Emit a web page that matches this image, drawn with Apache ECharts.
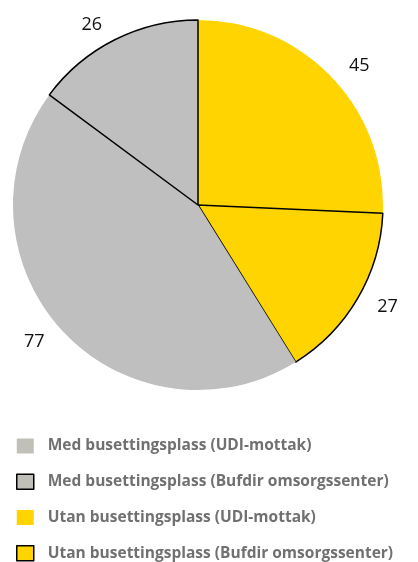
<!DOCTYPE html>
<html>
<head>
<meta charset="utf-8">
<script src="https://cdn.jsdelivr.net/npm/echarts@6/dist/echarts.min.js"></script>
<style>
  html, body { margin: 0; padding: 0; background: #fff; }
  #chart { width: 418px; height: 562px; }
</style>
</head>
<body>
<div id="chart"></div>
<script>
// slices clockwise from 12 o'clock
const sliceNames = [
  'Utan busettingsplass (UDI-mottak)',
  'Utan busettingsplass (Bufdir omsorgssenter)',
  'Med busettingsplass (UDI-mottak)',
  'Med busettingsplass (Bufdir omsorgssenter)'
]
const sliceValues = [45, 27, 77, 26]
const legendOrder = [
  'Med busettingsplass (UDI-mottak)',
  'Med busettingsplass (Bufdir omsorgssenter)',
  'Utan busettingsplass (UDI-mottak)',
  'Utan busettingsplass (Bufdir omsorgssenter)'
]

const yellow = '#FFD400'
const grey = '#BFBFBF'
const legendGrey = '#C0C0B8'

function styleFor(name, g) {
  const color = name.indexOf('Utan') === 0 ? yellow : g
  const bordered = name.indexOf('Bufdir') > -1
  return {
    color: color,
    borderColor: bordered ? '#000' : color,
    borderWidth: bordered ? 1.5 : 0
  }
}

const myChart = echarts.init(document.getElementById('chart'))
myChart.setOption({
  animation: false,
  legend: {
    data: legendOrder.map(n => ({ name: n, itemStyle: styleFor(n, legendGrey) })),
    orient: 'vertical',
    left: 16,
    top: 438,
    padding: 0,
    height: 130,
    icon: 'rect',
    itemWidth: 17,
    itemHeight: 15,
    itemGap: 19.5,
    textStyle: {
      color: '#707070',
      fontFamily: 'Open Sans',
      fontWeight: 'bold',
      fontSize: 15.5,
      padding: [0, 0, 0, 9]
    }
  },
  series: [{
    type: 'pie',
    center: [198, 205],
    radius: 185,
    startAngle: 90,
    clockwise: true,
    label: {
      show: true,
      position: 'outside',
      formatter: '{c}',
      color: '#111',
      fontFamily: 'Open Sans',
      fontSize: 18
    },
    labelLine: { show: false, length: 17, length2: 0 },
    emphasis: { disabled: true },
    data: sliceNames.map((n, i) => ({
      name: n,
      value: sliceValues[i],
      itemStyle: styleFor(n, grey)
    }))
  }]
})
</script>
</body>
</html>
